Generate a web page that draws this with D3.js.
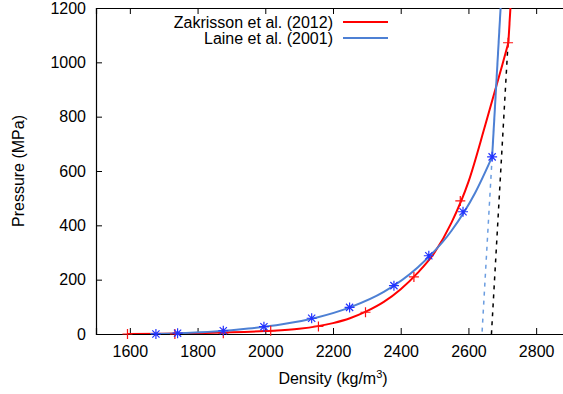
<!DOCTYPE html>
<html lang="en">
<head>
    <meta charset="UTF-8" />
    <title>Pressure vs density</title>
    <script src="https://d3js.org/d3.v7.min.js"></script>
    <style>
        body { margin: 0; background: #fff; }
        text { font-family: "Liberation Sans", Arial, sans-serif; font-size: 16px; fill: #000; }
    </style>
</head>
<body>
    <div class="canvas"></div>

    <script>
        // tick values
        const xTicks = [1600, 1800, 2000, 2200, 2400, 2600, 2800];
        const yTicks = [0, 200, 400, 600, 800, 1000, 1200];

        // Zakrisson et al. (2012): points (+) and fitted curve
        const zakDensity = [1593, 1733, 1876, 2016, 2157, 2296, 2439, 2576, 2717];
        const zakPressure = [0, 0, 3, 12, 28, 80, 210, 490, 1072];
        const zakCurveDensity = [1593, 1700, 1800, 1900, 2000, 2100, 2200, 2250, 2300, 2350, 2400, 2450, 2500, 2550, 2600, 2650, 2700, 2718];
        const zakCurvePressure = [0, 1, 3, 6, 11, 19, 40, 58, 84, 118, 165, 225, 300, 410, 560, 770, 990, 1072];
        const zakSteepDensity = [2718, 2724];
        const zakSteepPressure = [1072, 1200];
        const zakDashDensity = [2717, 2668];
        const zakDashPressure = [1072, 0];

        // Laine et al. (2001): points (*) and fitted curve
        const laineDensity = [1677, 1741, 1876, 1996, 2137, 2249, 2380, 2483, 2584, 2670];
        const lainePressure = [0, 3, 12, 27, 58, 98, 178, 288, 450, 652];
        const laineCurveDensity = [1660, 1750, 1850, 1950, 2050, 2150, 2250, 2350, 2450, 2550, 2620, 2670];
        const laineCurvePressure = [0, 3, 9, 20, 36, 60, 98, 155, 245, 380, 520, 652];
        const laineSteepDensity = [2670, 2695];
        const laineSteepPressure = [652, 1200];
        const laineDashDensity = [2670, 2640];
        const laineDashPressure = [652, 0];

        const 빨강 = "#ff0000", 파랑 = "#4d80d4";

        const svg = d3.select(".canvas").append("svg")
            .attr("width", 563).attr("height", 394);

        // plot area (right edge runs past the window, like the reference)
        const 좌 = 96, 우 = 570, 상 = 8, 하 = 334;

        const x = d3.scaleLinear().domain([1500, 2900]).range([좌, 우]);
        const y = d3.scaleLinear().domain([0, 1200]).range([하, 상]);

        svg.append("clipPath").attr("id", "plotclip")
            .append("rect").attr("x", 좌).attr("y", 상).attr("width", 우 - 좌).attr("height", 하 - 상);

        // axes: ticks point inward, mirrored at top
        const axisG = svg.append("g");
        axisG.append("g").attr("transform", `translate(0,${하})`)
            .call(d3.axisBottom(x).tickValues(xTicks).tickSize(-6).tickPadding(12).tickFormat(d3.format("d")));
        axisG.append("g").attr("transform", `translate(0,${상})`)
            .call(d3.axisTop(x).tickValues(xTicks).tickSize(-6).tickFormat(""));
        axisG.append("g").attr("transform", `translate(${좌},0)`)
            .call(d3.axisLeft(y).tickValues(yTicks).tickSize(-6).tickPadding(10).tickFormat(d3.format("d")));
        axisG.selectAll(".domain").attr("stroke", "#000").attr("stroke-width", 1.2);
        axisG.selectAll(".tick line").attr("stroke", "#000");
        axisG.selectAll(".tick text").style("font-size", "16px").style("font-family", "Liberation Sans, Arial, sans-serif");

        // axis titles
        svg.append("text").attr("x", (좌 + 우) / 2).attr("y", 384)
            .attr("text-anchor", "middle")
            .html('Density (kg/m<tspan dy="-6" style="font-size:11px">3</tspan><tspan dy="6">)</tspan>');
        svg.append("text").attr("transform", `translate(24,${(상 + 하) / 2}) rotate(-90)`)
            .attr("text-anchor", "middle").text("Pressure (MPa)");

        const plot = svg.append("g").attr("clip-path", "url(#plotclip)");
        const zip = (a, b) => a.map((v, i) => [v, b[i]]);
        const smooth = d3.line().x((d) => x(d[0])).y((d) => y(d[1])).curve(d3.curveMonotoneX);
        const straight = d3.line().x((d) => x(d[0])).y((d) => y(d[1]));

        // dashed extrapolations
        plot.append("path").attr("d", straight(zip(laineDashDensity, laineDashPressure)))
            .attr("fill", "none").attr("stroke", "#6b9de0").attr("stroke-width", 1.5).attr("stroke-dasharray", "4,5");
        plot.append("path").attr("d", straight(zip(zakDashDensity, zakDashPressure)))
            .attr("fill", "none").attr("stroke", "#000").attr("stroke-width", 1.5).attr("stroke-dasharray", "4,5");

        // curves
        plot.append("path").attr("d", smooth(zip(zakCurveDensity, zakCurvePressure)))
            .attr("fill", "none").attr("stroke", 빨강).attr("stroke-width", 2);
        plot.append("path").attr("d", straight(zip(zakSteepDensity, zakSteepPressure)))
            .attr("fill", "none").attr("stroke", 빨강).attr("stroke-width", 2);
        plot.append("path").attr("d", smooth(zip(laineCurveDensity, laineCurvePressure)))
            .attr("fill", "none").attr("stroke", 파랑).attr("stroke-width", 2);
        plot.append("path").attr("d", straight(zip(laineSteepDensity, laineSteepPressure)))
            .attr("fill", "none").attr("stroke", 파랑).attr("stroke-width", 2);

        // + markers
        const plusPath = "M-5,0H5M0,-5V5";
        svg.append("g").selectAll("path").data(zip(zakDensity, zakPressure)).enter()
            .append("path")
            .attr("transform", (d) => `translate(${x(d[0])},${y(d[1])})`)
            .attr("d", plusPath).attr("stroke", "#ff1010").attr("stroke-width", 1.2).attr("fill", "none");

        // * markers
        const starPath = "M-5,0H5M0,-5V5M-3.6,-3.6L3.6,3.6M-3.6,3.6L3.6,-3.6";
        svg.append("g").selectAll("path").data(zip(laineDensity, lainePressure)).enter()
            .append("path")
            .attr("transform", (d) => `translate(${x(d[0])},${y(d[1])})`)
            .attr("d", starPath).attr("stroke", "#2233ff").attr("stroke-width", 1.2).attr("fill", "none");

        // legend
        const legend = [["Zakrisson et al. (2012)", 빨강], ["Laine et al. (2001)", 파랑]];
        legend.forEach(([label, color], i) => {
            const ly = 22 + i * 16;
            svg.append("text").attr("x", 333).attr("y", ly).attr("dy", "0.35em")
                .attr("text-anchor", "end").text(label);
            svg.append("line").attr("x1", 343).attr("x2", 388).attr("y1", ly).attr("y2", ly)
                .attr("stroke", color).attr("stroke-width", 2);
        });
    </script>
</body>
</html>
